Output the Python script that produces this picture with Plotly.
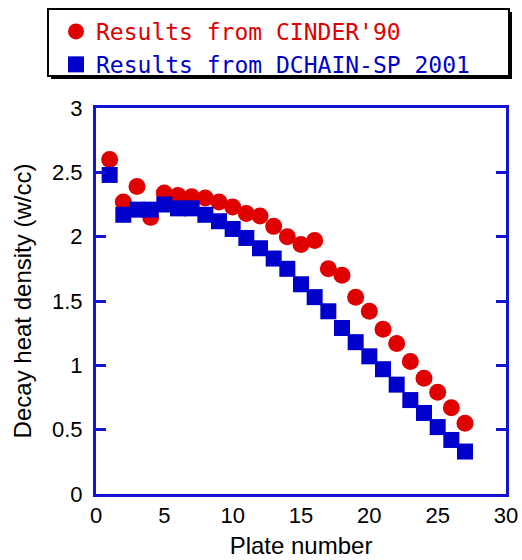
import plotly.graph_objects as go

# Plate index along the assembly
plates = list(range(1, 28))

# Decay heat density (w/cc) per plate
cinder90 = [2.60, 2.27, 2.39, 2.15, 2.34, 2.32, 2.31, 2.30, 2.27, 2.23,
            2.18, 2.16, 2.08, 2.00, 1.94, 1.97, 1.75, 1.70, 1.53, 1.42,
            1.28, 1.17, 1.03, 0.90, 0.79, 0.67, 0.55]
dchain_sp = [2.48, 2.17, 2.21, 2.21, 2.25, 2.22, 2.22, 2.17, 2.12, 2.06,
             1.99, 1.91, 1.83, 1.75, 1.63, 1.53, 1.42, 1.29, 1.18, 1.07,
             0.97, 0.85, 0.73, 0.63, 0.52, 0.42, 0.33]

series_names = ["Results from CINDER'90", "Results from DCHAIN-SP 2001"]
x_ticks = [0, 5, 10, 15, 20, 25, 30]
y_ticks = [0, 0.5, 1, 1.5, 2, 2.5, 3]
y_tick_text = ["0", "0.5", "1", "1.5", "2", "2.5", "3"]

RED = "#e00000"
BLUE = "#0000cc"
FRAME = "#1414d2"
LABEL_FONT = "Liberation Sans"

fig = go.Figure()
fig.add_trace(go.Scatter(
    x=plates, y=cinder90, mode="markers",
    name=f'<span style="color:{RED}">{series_names[0]}</span>',
    marker=dict(symbol="circle", size=17, color=RED, line=dict(width=0)),
))
fig.add_trace(go.Scatter(
    x=plates, y=dchain_sp, mode="markers",
    name=f'<span style="color:{BLUE}">{series_names[1]}</span>',
    marker=dict(symbol="square", size=16, color=BLUE, line=dict(width=0)),
))

W, H = 522, 560
ml, mr, mt, mb = 96, 16, 108, 66
pw, ph = W - ml - mr, H - mt - mb


def px_x(p):
    return (p - ml) / pw


def px_y(p):
    return (H - mb - p) / ph


# legend frame: black drop shadow, then a white box with a black border
fig.add_shape(type="rect", xref="paper", yref="paper",
              x0=px_x(51), x1=px_x(512), y0=px_y(79), y1=px_y(12),
              fillcolor="black", line=dict(width=0), layer="below")
fig.add_shape(type="rect", xref="paper", yref="paper",
              x0=px_x(48), x1=px_x(509), y0=px_y(76), y1=px_y(9),
              fillcolor="white", line=dict(color="black", width=2), layer="below")

fig.update_layout(
    width=W, height=H,
    margin=dict(l=ml, r=mr, t=mt, b=mb, autoexpand=False),
    paper_bgcolor="white", plot_bgcolor="white",
    showlegend=True,
    legend=dict(
        x=px_x(56), y=px_y(10), xanchor="left", yanchor="top",
        bgcolor="rgba(0,0,0,0)", borderwidth=0,
        font=dict(family="DejaVu Sans Mono", size=23),
        tracegroupgap=0, itemsizing="trace",
    ),
    xaxis=dict(
        range=[0, 30], tickvals=x_ticks, ticks="", showgrid=False,
        zeroline=False, showline=True, linecolor=FRAME, linewidth=3,
        mirror=True, automargin=False,
        tickfont=dict(family=LABEL_FONT, size=22, color="black"),
        title=dict(text="Plate number",
                   font=dict(family=LABEL_FONT, size=24, color="black"),
                   standoff=10),
    ),
    yaxis=dict(
        range=[0, 3], tickvals=y_ticks, ticktext=y_tick_text, ticks="inside",
        ticklen=10, tickwidth=3, tickcolor=FRAME, showgrid=False,
        zeroline=False, showline=True, linecolor=FRAME, linewidth=3,
        mirror="ticks", ticklabelstandoff=6, automargin=False,
        tickfont=dict(family=LABEL_FONT, size=22, color="black"),
        title=dict(text="Decay heat density (w/cc)",
                   font=dict(family=LABEL_FONT, size=24, color="black"),
                   standoff=14),
    ),
)

fig.write_html("out.html")
